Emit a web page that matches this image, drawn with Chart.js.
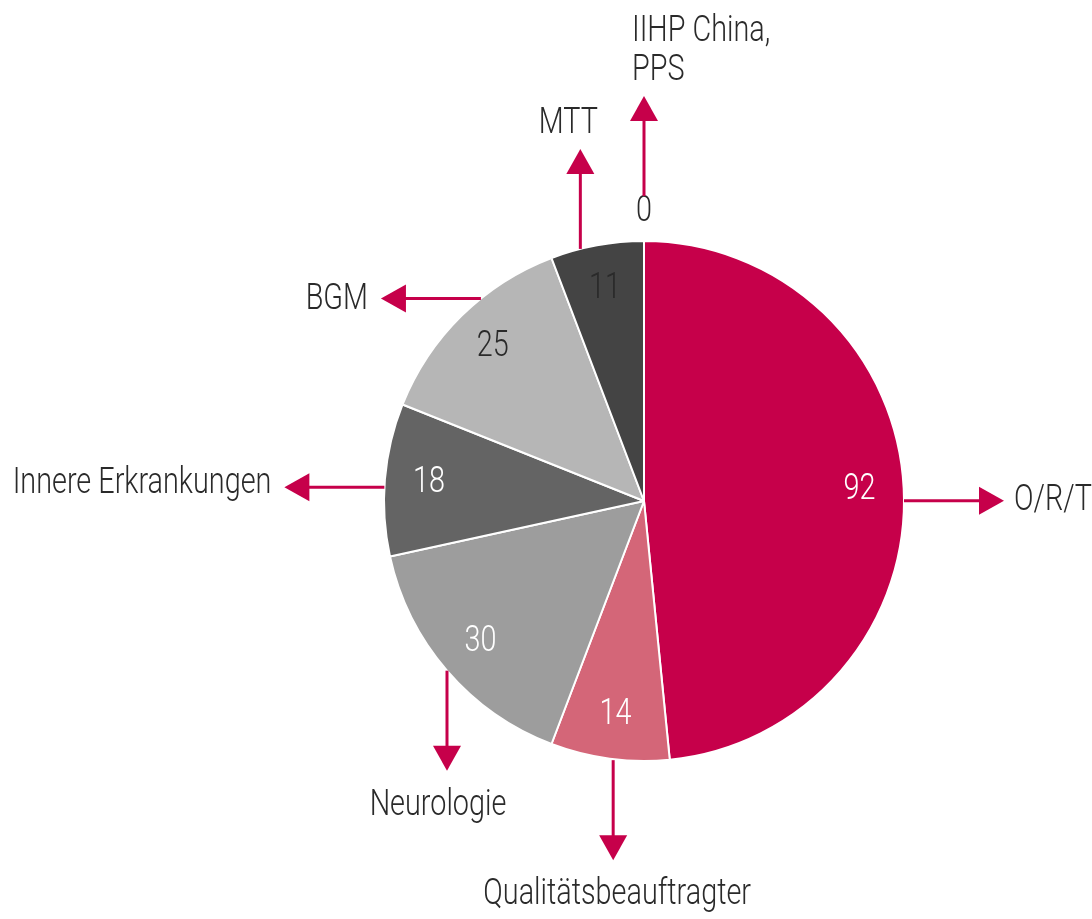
<!DOCTYPE html>
<html>
<head>
<meta charset="utf-8">
<script src="https://cdn.jsdelivr.net/npm/chart.js@4.4.0/dist/chart.umd.min.js"></script>
<style>
  html, body { margin: 0; padding: 0; background: #fff; }
  #wrap { width: 1092px; height: 919px; position: relative; }
</style>
</head>
<body>
<div id="wrap"><canvas id="myChart"></canvas></div>
<script>
// data
const categories = ['O/R/T', 'Qualitätsbeauftragter', 'Neurologie', 'Innere Erkrankungen', 'BGM', 'MTT', ['IIHP China,', 'PPS']];
const counts = [92, 14, 30, 18, 25, 11, 0];

// styles
const sliceColors = ['#C6004A', '#D46678', '#9D9D9D', '#646464', '#B6B6B6', '#444444', '#444444'];
const valueColors = ['#ffffff', '#ffffff', '#ffffff', '#ffffff', '#2a2a2a', '#2a2a2a', '#2a2a2a'];
const accent = '#C6004A';
const textFont = '300 36px Roboto, "Liberation Sans", sans-serif';
const squeeze = 0.8; // condensed look

// where each callout leaves its slice: fraction of the slice, direction, extra gap, text shift
const callouts = [
    { at: 0.516, dir: 'right', gap: 0, dx: 0, dy: 0, align: 'left' },
    { at: 0.47, dir: 'down', gap: 1, dx: 4, dy: 0, align: 'center' },
    { at: 0.5, dir: 'down', gap: 0, dx: -9, dy: 0, align: 'center' },
    { at: 0.45, dir: 'left', gap: 0, dx: 0, dy: -3, align: 'right' },
    { at: 0.62, dir: 'left', gap: 0, dx: 0, dy: 2, align: 'right' },
    { at: 0.32, dir: 'up', gap: 0, dx: -12, dy: 0, align: 'center' },
    { at: 0.5, dir: 'up', gap: 45, dx: -12, dy: 0, align: 'left' }
];

function drawText(c, t, x, y, align, color) {
    c.save();
    c.font = textFont;
    c.fillStyle = color;
    c.textAlign = align;
    c.textBaseline = 'middle';
    c.translate(x, y);
    c.scale(squeeze, 1);
    c.fillText(t, 0, 0);
    c.restore();
}

const calloutPlugin = {
    id: 'callouts',
    afterDraw(chart) {
        const c = chart.ctx;
        const meta = chart.getDatasetMeta(0);
        meta.data.forEach(function (arc, i) {
            const cx = arc.x, cy = arc.y, R = arc.outerRadius;
            const mid = (arc.startAngle + arc.endAngle) / 2;

            // value inside (or above an empty slice)
            const vr = counts[i] === 0 ? R + 29 : R * 0.83;
            drawText(c, String(counts[i]), cx + vr * Math.cos(mid), cy + vr * Math.sin(mid), 'center', valueColors[i]);

            // arrow
            const co = callouts[i];
            const a = arc.startAngle + (arc.endAngle - arc.startAngle) * co.at;
            const sr = R + co.gap;
            const sx = cx + sr * Math.cos(a), sy = cy + sr * Math.sin(a);
            const len = 100, head = 25, half = 14;
            let ux = 0, uy = 0;
            if (co.dir === 'right') ux = 1;
            if (co.dir === 'left') ux = -1;
            if (co.dir === 'up') uy = -1;
            if (co.dir === 'down') uy = 1;
            const tx = sx + ux * len, ty = sy + uy * len;
            const bx = tx - ux * head, by = ty - uy * head;

            c.save();
            c.strokeStyle = accent;
            c.fillStyle = accent;
            c.lineWidth = 3;
            c.beginPath();
            c.moveTo(sx, sy);
            c.lineTo(bx + ux, by + uy);
            c.stroke();
            c.beginPath();
            c.moveTo(tx, ty);
            c.lineTo(bx + uy * half, by + ux * half);
            c.lineTo(bx - uy * half, by - ux * half);
            c.closePath();
            c.fill();
            c.restore();

            // category text
            const lines = Array.isArray(categories[i]) ? categories[i] : [categories[i]];
            const lh = 39;
            let lx = tx, ly = ty;
            if (co.dir === 'right') lx = tx + 10;
            if (co.dir === 'left') lx = tx - 13;
            if (co.dir === 'up') ly = ty - 25 - (lines.length - 1) * lh;
            if (co.dir === 'down') ly = ty + 35;
            lines.forEach(function (t, k) {
                drawText(c, t, lx + co.dx, ly + co.dy + k * lh, co.align, '#2a2a2a');
            });
        });
    }
};

const ctx = document.getElementById('myChart');

const myChart = new Chart(ctx, {
    type: 'pie',
    data: {
        labels: categories,
        datasets: [{
            data: counts,
            backgroundColor: sliceColors,
            borderColor: '#ffffff',
            borderWidth: 2
        }]
    },
    options: {
        responsive: true,
        maintainAspectRatio: false,
        animation: false,
        layout: {
            padding: { left: 382, right: 186, top: 240, bottom: 157 }
        },
        plugins: {
            legend: { display: false },
            tooltip: { enabled: false },
            title: { display: false }
        }
    },
    plugins: [calloutPlugin]
});
</script>
</body>
</html>
